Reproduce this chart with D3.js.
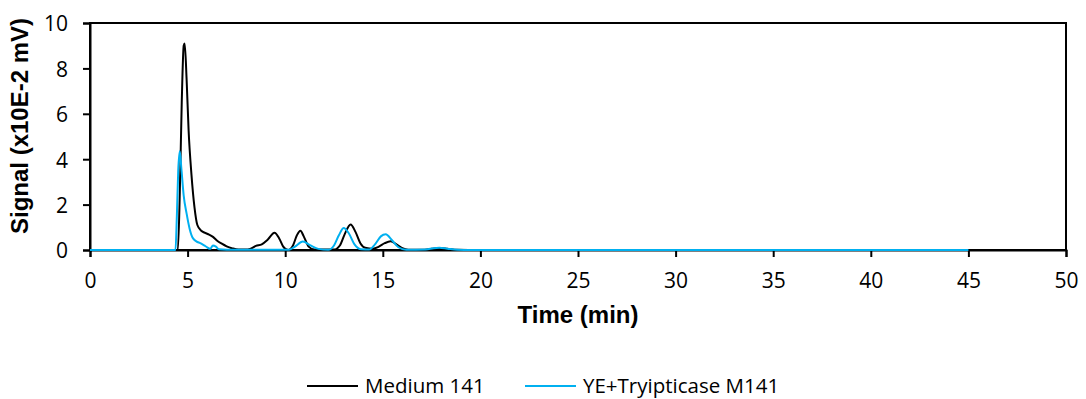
<!DOCTYPE html>
<html>
<head>
<meta charset="utf-8">
<script src="https://cdn.jsdelivr.net/npm/d3@7"></script>
<style>
  body { margin: 0; background: #fff; }
  svg { display: block; }
  .tick-label { font-family: "Open Sans", sans-serif; font-size: 21px; fill: #000; }
  .axis-title { font-family: "Liberation Sans", Arial, sans-serif; font-weight: bold; font-size: 24px; fill: #000; }
  .legend-label { font-family: "Open Sans", sans-serif; font-size: 20.5px; fill: #000; }
</style>
</head>
<body>
<svg id="chart" width="1086" height="399"></svg>
<script>
// time (min) and signal (x10E-2 mV)
const mediumTime = [0, 4.4, 4.5, 4.6, 4.7, 4.8, 4.85, 4.95, 5.05, 5.2, 5.35, 5.5, 5.7, 5.9, 6.1, 6.3, 6.5, 6.75, 7.0, 7.3, 7.6, 8.0, 8.2, 8.5, 8.8, 9.1, 9.45, 9.7, 9.9, 10.15, 10.4, 10.6, 10.78, 10.95, 11.2, 11.5, 12.5, 12.8, 13.05, 13.35, 13.6, 13.85, 14.1, 14.5, 14.8, 15.1, 15.4, 15.7, 16.0, 16.3, 17.0, 17.5, 17.9, 18.3, 18.8, 20, 45];
const mediumSignal = [0, 0, 0, 2.5, 6.5, 9.0, 9.1, 7.5, 5.3, 3.3, 1.9, 1.1, 0.85, 0.75, 0.68, 0.58, 0.42, 0.28, 0.16, 0.07, 0.02, 0.02, 0.05, 0.18, 0.25, 0.45, 0.76, 0.5, 0.15, 0.0, 0.2, 0.65, 0.85, 0.6, 0.15, 0.02, 0.02, 0.2, 0.7, 1.12, 0.8, 0.3, 0.1, 0.06, 0.15, 0.3, 0.38, 0.25, 0.08, 0.01, 0.01, 0.05, 0.09, 0.06, 0.01, 0, 0];

const ytTime = [0, 4.38, 4.45, 4.52, 4.6, 4.68, 4.8, 4.95, 5.1, 5.25, 5.45, 5.65, 5.85, 6.0, 6.15, 6.3, 6.45, 6.6, 7.0, 10.2, 10.5, 10.9, 11.3, 11.7, 12.2, 12.5, 12.75, 13.0, 13.25, 13.55, 13.9, 14.3, 14.6, 14.9, 15.15, 15.45, 15.8, 16.2, 17.2, 17.6, 17.9, 18.3, 18.8, 19.5, 45];
const ytSignal = [0, 0, 1.5, 3.5, 4.35, 3.6, 2.4, 1.6, 0.95, 0.55, 0.38, 0.3, 0.2, 0.12, 0.05, 0.2, 0.15, 0.03, 0.01, 0.01, 0.15, 0.37, 0.2, 0.05, 0.01, 0.2, 0.65, 0.97, 0.75, 0.25, 0.03, 0.02, 0.25, 0.6, 0.69, 0.45, 0.12, 0.01, 0.02, 0.08, 0.1, 0.06, 0.01, 0, 0];

const xTicks = [0, 5, 10, 15, 20, 25, 30, 35, 40, 45, 50];
const yTicks = [0, 2, 4, 6, 8, 10];

const seriesNames = ["Medium 141", "YE+Tryipticase M141"];
const seriesColors = ["#000000", "#00b0f0"];

const svg = d3.select("#chart");
const plot = { left: 90, right: 1066, top: 23, bottom: 250 };

const x = d3.scaleLinear().domain([0, 50]).range([plot.left, plot.right]);
const y = d3.scaleLinear().domain([0, 10]).range([plot.bottom, plot.top]);

// plot frame
svg.append("rect")
  .attr("x", plot.left)
  .attr("y", plot.top)
  .attr("width", plot.right - plot.left)
  .attr("height", plot.bottom - plot.top)
  .attr("fill", "none")
  .attr("stroke", "#000")
  .attr("stroke-width", 2);

// x axis
let xAxis = svg.append("g")
  .attr("transform", `translate(0,${plot.bottom})`)
  .call(d3.axisBottom(x).tickValues(xTicks).tickSize(7).tickPadding(16));
xAxis.select(".domain").attr("stroke-width", 2);
xAxis.selectAll(".tick line").attr("stroke-width", 2);
xAxis.selectAll(".tick text").attr("class", "tick-label").attr("font-family", null).attr("font-size", null);

// y axis
let yAxis = svg.append("g")
  .attr("transform", `translate(${plot.left},0)`)
  .call(d3.axisLeft(y).tickValues(yTicks).tickSize(7).tickPadding(15));
yAxis.select(".domain").attr("stroke-width", 2);
yAxis.selectAll(".tick line").attr("stroke-width", 2);
yAxis.selectAll(".tick text")
  .attr("class", "tick-label")
  .attr("font-family", null)
  .attr("font-size", null)
  .attr("dy", "0.38em");

// titles
svg.append("text")
  .attr("class", "axis-title")
  .attr("x", (plot.left + plot.right) / 2)
  .attr("y", 323)
  .attr("text-anchor", "middle")
  .text("Time (min)");

svg.append("text")
  .attr("class", "axis-title")
  .attr("transform", "translate(28,126) rotate(-90)")
  .attr("text-anchor", "middle")
  .text("Signal (x10E-2 mV)");

// series
const line = d3.line()
  .x(d => x(d[0]))
  .y(d => y(d[1]))
  .curve(d3.curveMonotoneX);

const series = [
  d3.zip(mediumTime, mediumSignal),
  d3.zip(ytTime, ytSignal),
];

svg.append("g")
  .selectAll("path")
  .data(series)
  .enter()
  .append("path")
  .attr("d", line)
  .attr("fill", "none")
  .attr("stroke", (d, i) => seriesColors[i])
  .attr("stroke-width", 2)
  .attr("stroke-linejoin", "round");

// legend
const legendX = [307, 525];
let legend = svg.append("g")
  .selectAll("g")
  .data(seriesNames)
  .enter()
  .append("g")
  .attr("transform", (d, i) => `translate(${legendX[i]},386)`);

legend.append("line")
  .attr("x1", 0)
  .attr("x2", 51)
  .attr("stroke", (d, i) => seriesColors[i])
  .attr("stroke-width", 2);

legend.append("text")
  .attr("class", "legend-label")
  .attr("x", 58)
  .attr("y", 7)
  .text(d => d);
</script>
</body>
</html>
